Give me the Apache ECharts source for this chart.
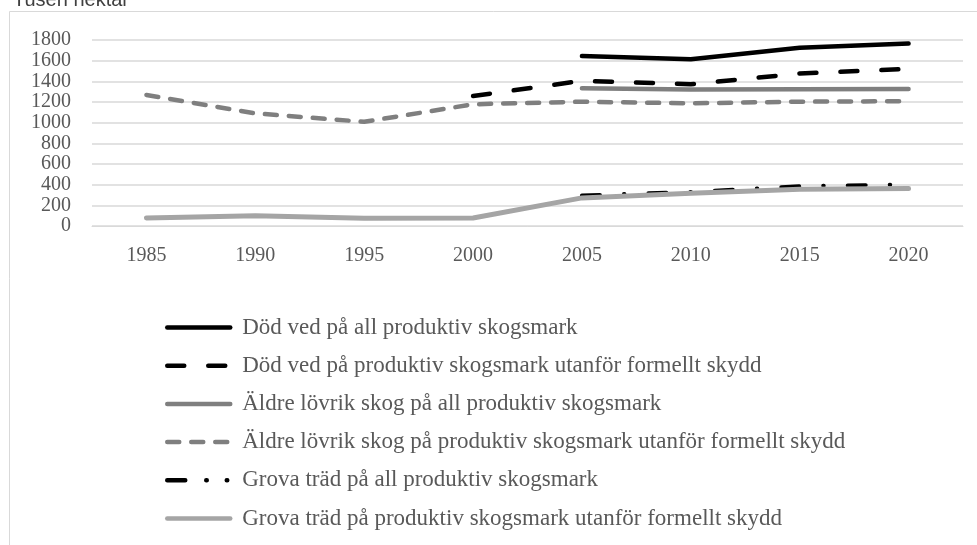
<!DOCTYPE html>
<html>
<head>
<meta charset="utf-8">
<script src="https://cdn.jsdelivr.net/npm/echarts@6/dist/echarts.min.js"></script>
<style>
  html, body { margin: 0; padding: 0; background: #fff; }
  #chart { width: 977px; height: 545px; }
</style>
</head>
<body>
<div id="chart"></div>
<script>
// årtal och värden (tusen hektar)
var years = ['1985', '1990', '1995', '2000', '2005', '2010', '2015', '2020']
var seriesNames = [
    'Död ved på all produktiv skogsmark',
    'Död ved på produktiv skogsmark utanför formellt skydd',
    'Äldre lövrik skog på all produktiv skogsmark',
    'Äldre lövrik skog på produktiv skogsmark utanför formellt skydd',
    'Grova träd på all produktiv skogsmark',
    'Grova träd på produktiv skogsmark utanför formellt skydd'
]
var dodVedAll = [null, null, null, null, 1645, 1613, 1725, 1765]
var dodVedUtanfor = [null, null, null, 1258, 1405, 1372, 1475, 1520]
var aldreAll = [null, null, null, null, 1332, 1320, 1323, 1325]
var aldreUtanfor = [1268, 1090, 1008, 1178, 1203, 1187, 1203, 1208]
var grovaAll = [null, null, null, null, 295, 330, 385, 402]
var grovaUtanfor = [78, 100, 75, 78, 272, 316, 355, 363]
var yTicks = [0, 200, 400, 600, 800, 1000, 1200, 1400, 1600, 1800]

var serif = '"Liberation Serif", "DejaVu Serif", serif'
var labelGray = '#595959'

function mkLine(name, data, color, width, dash, z) {
    return {
        name: name,
        type: 'line',
        data: data,
        symbol: 'none',
        z: z,
        lineStyle: { color: color, width: width, type: dash, cap: 'round', join: 'round' },
        itemStyle: { color: color }
    }
}

// legend: grova träd (all) får ett eget streck-prick-mönster som i förlagan
var legendData = seriesNames.map(function (n, i) {
    if (i === 4) return { name: n, lineStyle: { type: [18, 21, 0.5, 20, 0.5, 100] } }
    return { name: n }
})

var chart = echarts.init(document.getElementById('chart'))
chart.setOption({
    animation: false,
    graphic: [
        {
            type: 'rect',
            shape: { x: 9.5, y: 11.5, width: 1000, height: 600 },
            style: { fill: 'none', stroke: '#d9d9d9', lineWidth: 1 },
            silent: true
        },
        {
            type: 'text',
            left: 13,
            top: -10,
            style: { text: 'Tusen hektar', font: '20px "Liberation Sans", Arial, sans-serif', fill: '#404040' },
            silent: true
        }
    ],
    grid: { left: 92, right: 14, top: 40, bottom: 319, containLabel: false },
    xAxis: {
        type: 'category',
        data: years,
        boundaryGap: true,
        axisLine: { lineStyle: { color: '#d9d9d9', width: 1 } },
        axisTick: { show: false },
        axisLabel: { color: labelGray, fontFamily: serif, fontSize: 20, margin: 20 }
    },
    yAxis: {
        type: 'value',
        min: yTicks[0],
        max: yTicks[yTicks.length - 1],
        interval: 200,
        axisLine: { show: false },
        axisTick: { show: false },
        splitLine: { lineStyle: { color: '#d9d9d9', width: 1.5 } },
        axisLabel: {
            color: labelGray, fontFamily: serif, fontSize: 20, margin: 21,
            formatter: function (v) { return String(v) }
        }
    },
    legend: {
        orient: 'vertical',
        left: 165,
        top: 316,
        height: 225,
        padding: 0,
        itemWidth: 63,
        itemHeight: 16,
        itemGap: 15.2,
        data: legendData,
        lineStyle: { width: 4.5 },
        itemStyle: { color: 'rgba(0,0,0,0)', borderWidth: 0, opacity: 0 },
        textStyle: { color: labelGray, fontFamily: serif, fontSize: 23, lineHeight: 23, padding: [0, 0, 0, 7] }
    },
    series: [
        mkLine(seriesNames[0], dodVedAll, '#000000', 4.5, 'solid', 2),
        mkLine(seriesNames[1], dodVedUtanfor, '#000000', 4.5, [17, 24], 3),
        mkLine(seriesNames[2], aldreAll, '#7f7f7f', 4.5, 'solid', 4),
        mkLine(seriesNames[3], aldreUtanfor, '#7f7f7f', 4.5, [12, 12], 5),
        mkLine(seriesNames[4], grovaAll, '#000000', 4, [18, 24, 0.5, 24], 6),
        mkLine(seriesNames[5], grovaUtanfor, '#a5a5a5', 5, 'solid', 7)
    ]
})
</script>
</body>
</html>
